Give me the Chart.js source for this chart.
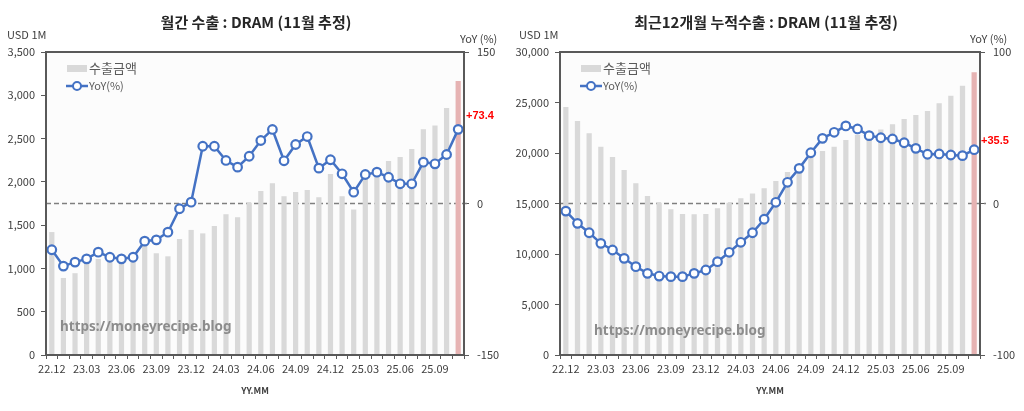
<!DOCTYPE html>
<html>
<head>
<meta charset="utf-8">
<script src="https://cdn.jsdelivr.net/npm/chart.js@4.4.1/dist/chart.umd.min.js"></script>
<style>
  body { margin: 0; background: #fff; width: 1024px; height: 411px; overflow: hidden; position: relative; font-family: "Noto Sans CJK KR", "Noto Sans", sans-serif; }
  canvas { position: absolute; top: 0; }
  .t { position: absolute; white-space: nowrap; color: #404040; }
  .title { font-size: 15px; font-weight: bold; color: #262626; transform: translateX(-50%); }
  .unit { font-size: 11px; }
  .xname { font-size: 9px; font-weight: bold; transform: translateX(-50%); }
  .wm { font-size: 13.5px; font-weight: bold; color: #8c8c8c; font-family: "Noto Sans", sans-serif; }
</style>
</head>
<body>
<canvas id="chart-monthly" width="512" height="411" style="left:0"></canvas>
<canvas id="chart-rolling" width="512" height="411" style="left:512px"></canvas>

<div class="t title" style="left:256px; top:11px">월간 수출 : DRAM (11월 추정)</div>
<div class="t title" style="left:766px; top:11px">최근12개월 누적수출 : DRAM (11월 추정)</div>
<div class="t unit" style="left:7px; top:26px">USD 1M</div>
<div class="t unit" style="left:460px; top:30px">YoY (%)</div>
<div class="t unit" style="left:519px; top:26px">USD 1M</div>
<div class="t unit" style="left:970px; top:30px">YoY (%)</div>
<div class="t xname" style="left:255px; top:384px">YY.MM</div>
<div class="t xname" style="left:770px; top:384px">YY.MM</div>
<div class="t wm" style="left:60px; top:317px">https://moneyrecipe.blog</div>
<div class="t wm" style="left:594px; top:321px">https://moneyrecipe.blog</div>

<script>
// DRAM export charts: monthly exports and trailing-12-month exports, each with YoY line
const months = [
  "22.12", "23.01", "23.02", "23.03", "23.04", "23.05", "23.06", "23.07", "23.08", "23.09", "23.10", "23.11",
  "23.12", "24.01", "24.02", "24.03", "24.04", "24.05", "24.06", "24.07", "24.08", "24.09", "24.10", "24.11",
  "24.12", "25.01", "25.02", "25.03", "25.04", "25.05", "25.06", "25.07", "25.08", "25.09", "25.10", "25.11",
];

// monthly exports (USD 1M) and YoY (%)
const monthlyExport = [
  1420, 890, 945, 1080, 1110, 1090, 1100, 1120, 1290, 1175, 1140, 1340,
  1445, 1405, 1490, 1625, 1590, 1760, 1894, 1985, 1833, 1882, 1906, 1821,
  2090, 1833, 1680, 2050, 2110, 2241, 2287, 2380, 2607, 2650, 2852, 3165,
];
const monthlyYoY = [
  -45.8, -62.0, -58.0, -54.8, -48.2, -53.2, -54.8, -53.2, -37.3, -36.0, -28.4, -5.2,
  1.3, 56.7, 56.7, 42.6, 36.0, 46.8, 62.4, 73.3, 42.3, 58.4, 66.3, 35.0,
  43.3, 29.4, 11.2, 28.7, 31.0, 26.0, 19.5, 19.5, 40.9, 39.3, 48.5, 73.4,
];

// trailing 12-month exports (USD 1M) and YoY (%)
const rollingExport = [
  24550, 23170, 21950, 20620, 19600, 18320, 17000, 15740, 15080, 14440, 13960, 13930,
  13960, 14520, 15080, 15510, 16000, 16500, 17230, 18120, 18900, 19600, 20200, 20620,
  21290, 21800, 22050, 22330, 22850, 23360, 23760, 24160, 24920, 25680, 26660, 27990,
];
const rollingYoY = [
  -5.0, -13.1, -19.3, -26.3, -30.7, -36.2, -41.7, -46.1, -47.9, -48.3, -48.3, -46.1,
  -43.9, -38.4, -32.2, -25.6, -19.3, -10.4, 0.8, 14.0, 23.2, 33.5, 43.0, 47.0,
  51.2, 49.2, 44.8, 43.4, 42.6, 40.1, 36.4, 32.5, 32.7, 32.0, 31.6, 35.5,
];

const monthlyLeftTicks = { min: 0, max: 3500, step: 500 };
const monthlyRightTicks = { min: -150, max: 150, step: 150 };
const rollingLeftTicks = { min: 0, max: 30000, step: 5000 };
const rollingRightTicks = { min: -100, max: 100, step: 100 };

const COLORS = {
  bar: "#d9d9d9",
  barLast: "#e6b3b3",
  line: "#4472c4",
  axis: "#595959",
  text: "#404040",
  zero: "#7f7f7f",
  plotBg: "#fcfcfc",
  red: "#ff0000",
};

Chart.defaults.animation = false;
Chart.defaults.font.family = '"Noto Sans CJK KR", "Noto Sans", sans-serif';
Chart.defaults.color = COLORS.text;

// plot background, dashed YoY zero line, frame, inside legend and last-value label
const framePlugin = {
  id: "frame",
  beforeDraw(chart) {
    const { ctx, chartArea: a } = chart;
    ctx.save();
    ctx.fillStyle = COLORS.plotBg;
    ctx.fillRect(a.left, a.top, a.right - a.left, a.bottom - a.top);
    ctx.restore();
  },
  beforeDatasetsDraw(chart) {
    const { ctx, chartArea: a } = chart;
    const y0 = chart.scales.y1.getPixelForValue(0);
    ctx.save();
    ctx.strokeStyle = COLORS.zero;
    ctx.lineWidth = 1.5;
    ctx.setLineDash([5, 3]);
    ctx.beginPath();
    ctx.moveTo(a.left, y0);
    ctx.lineTo(a.right + 6, y0);
    ctx.stroke();
    ctx.restore();
  },
  afterDatasetsDraw(chart, args, opts) {
    const { ctx, chartArea: a } = chart;
    ctx.save();
    ctx.strokeStyle = COLORS.axis;
    ctx.lineWidth = 2;
    ctx.strokeRect(a.left, a.top, a.right - a.left, a.bottom - a.top);

    // legend inside the plot
    const lx = a.left + 21;
    ctx.fillStyle = COLORS.bar;
    ctx.fillRect(lx, 65, 20, 7);
    ctx.fillStyle = COLORS.axis;
    ctx.font = '13px "Noto Sans CJK KR"';
    ctx.textBaseline = "middle";
    ctx.fillText("수출금액", lx + 22, 68.5);
    ctx.strokeStyle = COLORS.line;
    ctx.lineWidth = 2.5;
    ctx.beginPath();
    ctx.moveTo(lx - 1, 86);
    ctx.lineTo(lx + 21, 86);
    ctx.stroke();
    ctx.fillStyle = "#fff";
    ctx.lineWidth = 2;
    ctx.beginPath();
    ctx.arc(lx + 10, 86, 4, 0, Math.PI * 2);
    ctx.fill();
    ctx.stroke();
    ctx.fillStyle = COLORS.axis;
    ctx.font = '11px "Noto Sans CJK KR"';
    ctx.fillText("YoY(%)", lx + 22, 86);

    // last YoY value in red
    const meta = chart.getDatasetMeta(1);
    const last = meta.data[meta.data.length - 1];
    const v = chart.data.datasets[1].data[meta.data.length - 1];
    ctx.fillStyle = COLORS.red;
    ctx.font = 'bold 11px "Liberation Sans"';
    ctx.textAlign = "left";
    ctx.fillText("+" + v.toFixed(1), a.right + opts.labelDx, last.y + opts.labelDy);
    ctx.restore();
  },
};

function makeChart(canvasId, bars, yoy, left, right, leftW, rightW, labelDx, labelDy) {
  const barColors = bars.map((_, i) => (i === bars.length - 1 ? COLORS.barLast : COLORS.bar));
  return new Chart(document.getElementById(canvasId), {
    type: "bar",
    data: {
      labels: months,
      datasets: [
        {
          type: "bar",
          data: bars,
          yAxisID: "y",
          backgroundColor: barColors,
          categoryPercentage: 1,
          barPercentage: 0.45,
          order: 1,
        },
        {
          type: "line",
          data: yoy,
          yAxisID: "y1",
          borderColor: COLORS.line,
          borderWidth: 2.5,
          pointRadius: 4.3,
          pointBorderWidth: 2.2,
          pointBackgroundColor: "#fff",
          pointBorderColor: COLORS.line,
          tension: 0,
          order: 0,
        },
      ],
    },
    options: {
      responsive: false,
      layout: { padding: { top: 52, left: 0, right: 0, bottom: 0 } },
      plugins: {
        legend: { display: false },
        tooltip: { enabled: false },
        frame: { labelDx: labelDx, labelDy: labelDy },
      },
      scales: {
        x: {
          offset: true,
          grid: { display: true, drawOnChartArea: false, tickLength: 4, color: COLORS.axis },
          border: { color: COLORS.axis, width: 2 },
          ticks: {
            autoSkip: false,
            maxRotation: 0,
            padding: 3,
            font: { size: 11 },
            color: COLORS.text,
            callback: (v, i) => (i % 3 === 0 ? months[i] : ""),
          },
          afterFit: (s) => { s.height = 56; },
        },
        y: {
          position: "left",
          min: left.min,
          max: left.max,
          grid: { drawOnChartArea: false, tickLength: 5, color: COLORS.axis },
          border: { color: COLORS.axis, width: 2 },
          ticks: { stepSize: left.step, padding: 6, font: { size: 11 }, color: COLORS.text, callback: (v) => v.toLocaleString("en-US") },
          afterFit: (s) => { s.width = leftW; },
        },
        y1: {
          position: "right",
          min: right.min,
          max: right.max,
          grid: { drawOnChartArea: false, tickLength: 5, color: COLORS.axis },
          border: { color: COLORS.axis, width: 2 },
          ticks: { stepSize: right.step, padding: 8, font: { size: 11 }, color: COLORS.text },
          afterFit: (s) => { s.width = rightW; },
        },
      },
    },
    plugins: [framePlugin],
  });
}

makeChart("chart-monthly", monthlyExport, monthlyYoY, monthlyLeftTicks, monthlyRightTicks, 46, 48, 2, -13);
makeChart("chart-rolling", rollingExport, rollingYoY, rollingLeftTicks, rollingRightTicks, 48, 44, 1, -9);
</script>
</body>
</html>
